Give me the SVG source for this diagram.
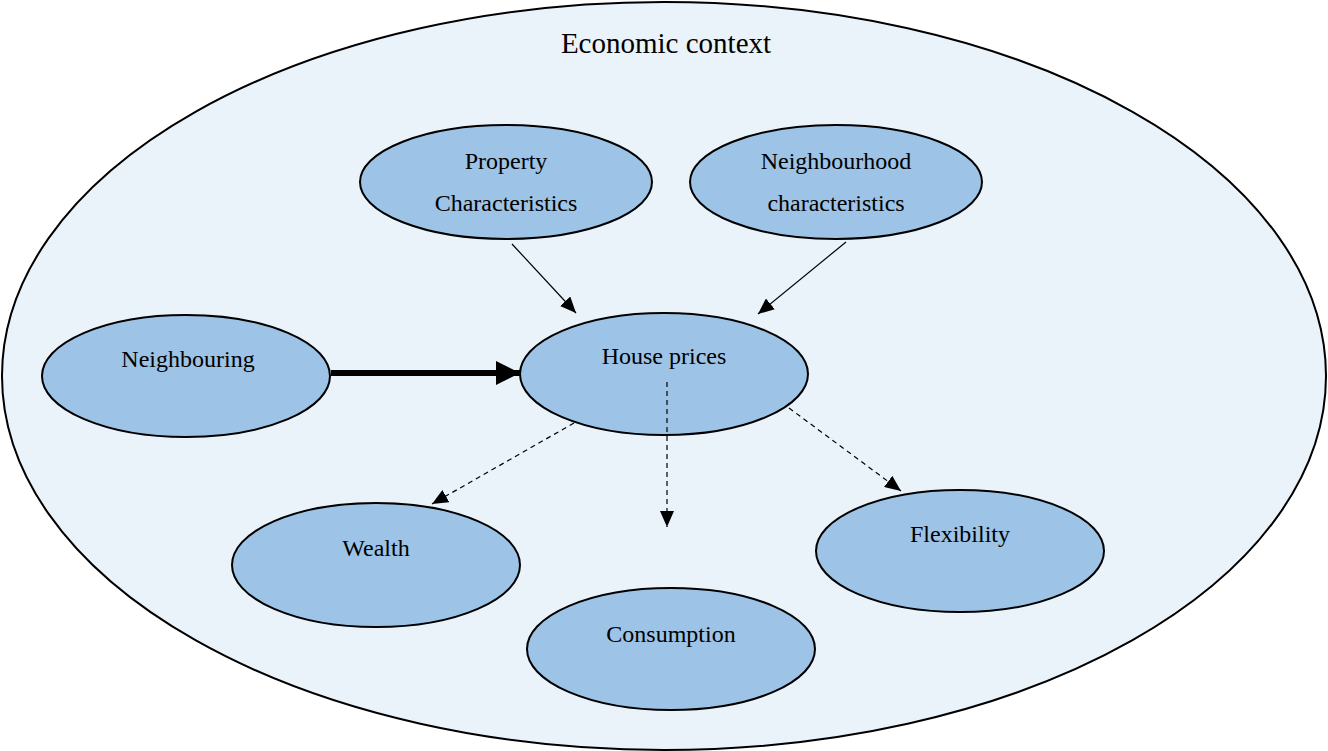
<svg xmlns="http://www.w3.org/2000/svg" width="1328" height="751" viewBox="0 0 1328 751">
  <style>
    .ctx { fill: #EAF2FA; stroke: #000; stroke-width: 2; }
    .node { fill: #9DC3E6; stroke: #000; stroke-width: 2; }
    .lbl { font-family: "Liberation Serif", "Times New Roman", serif; font-size: 24px; fill: #000; text-anchor: middle; }
    .title { font-family: "Liberation Serif", "Times New Roman", serif; font-size: 29px; fill: #000; text-anchor: middle; }
    .thin { stroke: #000; stroke-width: 1.2; fill: none; marker-end: url(#head); }
    .dash { stroke: #000; stroke-width: 1.2; fill: none; stroke-dasharray: 5 4; marker-end: url(#head); }
    .thick { stroke: #000; stroke-width: 6; fill: none; marker-end: url(#bighead); }
  </style>
  <defs>
    <marker id="head" markerUnits="userSpaceOnUse" markerWidth="16" markerHeight="14" refX="16" refY="7" orient="auto">
      <path d="M0,0 L16,7 L0,14 Z" fill="#000"/>
    </marker>
    <marker id="bighead" markerUnits="userSpaceOnUse" markerWidth="24" markerHeight="24" refX="24" refY="12" orient="auto">
      <path d="M0,0 L24,12 L0,24 Z" fill="#000"/>
    </marker>
  </defs>

  <g id="economic-context">
    <ellipse class="ctx" cx="664" cy="376" rx="662" ry="374"/>
    <text class="title" x="666" y="53">Economic context</text>
  </g>

  <g id="property">
    <ellipse class="node" cx="506" cy="182" rx="146" ry="57"/>
    <text class="lbl" x="506" y="169">Property</text>
    <text class="lbl" x="506" y="211">Characteristics</text>
  </g>

  <g id="neighbourhood">
    <ellipse class="node" cx="836" cy="182" rx="146" ry="57"/>
    <text class="lbl" x="836" y="169">Neighbourhood</text>
    <text class="lbl" x="836" y="211">characteristics</text>
  </g>

  <g id="neighbouring">
    <ellipse class="node" cx="186" cy="376" rx="144" ry="61"/>
    <text class="lbl" x="188" y="367">Neighbouring</text>
  </g>

  <g id="house-prices">
    <ellipse class="node" cx="664" cy="374" rx="144" ry="61"/>
    <text class="lbl" x="664" y="364">House prices</text>
  </g>

  <g id="wealth">
    <ellipse class="node" cx="376" cy="565" rx="144" ry="62"/>
    <text class="lbl" x="376" y="556">Wealth</text>
  </g>

  <g id="consumption">
    <ellipse class="node" cx="671" cy="649" rx="144" ry="61"/>
    <text class="lbl" x="671" y="642">Consumption</text>
  </g>

  <g id="flexibility">
    <ellipse class="node" cx="960" cy="551" rx="144" ry="61"/>
    <text class="lbl" x="960" y="542">Flexibility</text>
  </g>

  <g id="connectors">
    <line class="thin" x1="512" y1="244" x2="576" y2="313"/>
    <line class="thin" x1="846" y1="242" x2="758" y2="314"/>
    <line class="thick" x1="331" y1="373" x2="520" y2="373"/>
    <line class="dash" x1="574" y1="423" x2="432" y2="504"/>
    <line class="dash" x1="667" y1="382" x2="667" y2="527"/>
    <line class="dash" x1="789" y1="408" x2="901" y2="491"/>
  </g>
</svg>
